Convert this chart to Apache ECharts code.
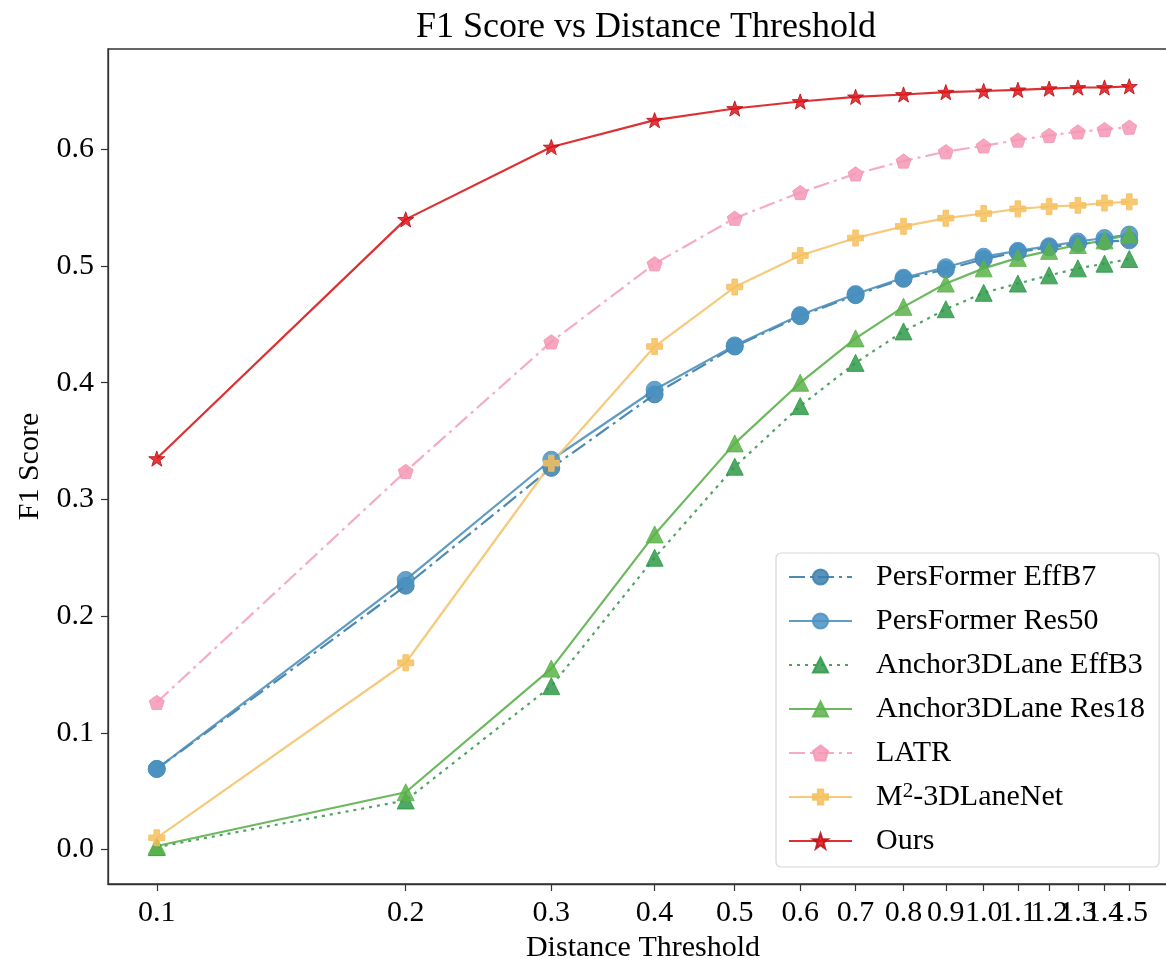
<!DOCTYPE html>
<html>
<head>
<meta charset="utf-8">
<script src="https://cdn.jsdelivr.net/npm/echarts@6/dist/echarts.min.js"></script>
<style>
  html, body { margin: 0; padding: 0; background: #fff; }
  #chart { width: 1166px; height: 958px; }
</style>
</head>
<body>
<div id="chart"></div>
<script>
// Distance thresholds (x) and F1 scores for each method
const thresholds = [0.1, 0.2, 0.3, 0.4, 0.5, 0.6, 0.7, 0.8, 0.9, 1.0, 1.1, 1.2, 1.3, 1.4, 1.5];
const persformerEffB7 = [0.069, 0.226, 0.327, 0.390, 0.431, 0.457, 0.475, 0.489, 0.497, 0.506, 0.512, 0.516, 0.519, 0.521, 0.522];
const persformerRes50 = [0.069, 0.231, 0.334, 0.394, 0.432, 0.458, 0.476, 0.490, 0.499, 0.508, 0.513, 0.517, 0.521, 0.524, 0.527];
const anchorEffB3 = [0.002, 0.042, 0.140, 0.250, 0.328, 0.380, 0.417, 0.444, 0.463, 0.477, 0.485, 0.492, 0.498, 0.502, 0.506];
const anchorRes18 = [0.003, 0.049, 0.155, 0.270, 0.348, 0.400, 0.438, 0.465, 0.485, 0.498, 0.507, 0.513, 0.518, 0.522, 0.527];
const latr = [0.126, 0.324, 0.435, 0.502, 0.541, 0.563, 0.579, 0.590, 0.598, 0.603, 0.608, 0.612, 0.615, 0.617, 0.619];
const m2LaneNet = [0.010, 0.160, 0.331, 0.431, 0.482, 0.509, 0.524, 0.534, 0.541, 0.545, 0.549, 0.551, 0.552, 0.554, 0.555];
const ours = [0.335, 0.540, 0.602, 0.625, 0.635, 0.641, 0.645, 0.647, 0.649, 0.650, 0.651, 0.652, 0.653, 0.653, 0.654];

const xTickValues = [0.1, 0.2, 0.3, 0.4, 0.5, 0.6, 0.7, 0.8, 0.9, 1.0, 1.1, 1.2, 1.3, 1.4, 1.5];
const yTickValues = [0.0, 0.1, 0.2, 0.3, 0.4, 0.5, 0.6];

const FONT = '"Liberation Serif", "DejaVu Serif", serif';
const X_MIN = 0.0873;
const X_MAX = 1.718;

// The tick labels at the right end run into each other; splitting them across two
// stacked axes keeps every one of them drawn instead of being thinned out.
const xTicksEven = xTickValues.filter((v, i) => i % 2 === 0);
const xTicksOdd = xTickValues.filter((v, i) => i % 2 === 1);

// Regular polygon / star outlines used as marker shapes
function polygonPath(points, inner) {
  const n = inner ? points * 2 : points;
  let d = '';
  for (let i = 0; i < n; i++) {
    const r = inner && i % 2 === 1 ? inner : 1;
    const a = -Math.PI / 2 + i * Math.PI * 2 / n;
    const px = (r * Math.cos(a)).toFixed(4);
    const py = (r * Math.sin(a)).toFixed(4);
    d += (i === 0 ? 'M' : 'L') + px + ',' + py;
  }
  return 'path://' + d + 'Z';
}
const STAR = polygonPath(5, 0.4);
const PENTAGON = polygonPath(5, 0);
const PLUS = 'path://M-0.35,-1L0.35,-1L0.35,-0.35L1,-0.35L1,0.35L0.35,0.35L0.35,1L-0.35,1L-0.35,0.35L-1,0.35L-1,-0.35L-0.35,-0.35Z';

function pairs(values) {
  return thresholds.map((t, i) => [t, values[i]]);
}

function makeSeries(name, values, opts) {
  return {
    name: name,
    type: 'line',
    xAxisIndex: 0,
    data: pairs(values),
    symbol: opts.symbol,
    symbolSize: opts.size,
    symbolKeepAspect: true,
    showAllSymbol: true,
    lineStyle: { color: opts.line, width: 2.2, type: opts.dash || 'solid', opacity: 0.9 },
    itemStyle: { color: opts.fill, opacity: 0.85, borderColor: opts.edge || opts.fill, borderWidth: 1 },
    emphasis: { disabled: true },
    animation: false
  };
}

const series = [
  makeSeries('PersFormer EffB7', persformerEffB7, { symbol: 'circle', size: 17, line: '#3b7ca8', fill: '#3a80ad', dash: [16, 5, 3, 5] }),
  makeSeries('PersFormer Res50', persformerRes50, { symbol: 'circle', size: 17, line: '#4e90bd', fill: '#4a92c2' }),
  makeSeries('Anchor3DLane EffB3', anchorEffB3, { symbol: 'triangle', size: 17, line: '#3a9a50', fill: '#2f9a49', dash: [3, 5] }),
  makeSeries('Anchor3DLane Res18', anchorRes18, { symbol: 'triangle', size: 17, line: '#5cb04c', fill: '#5ab34a' }),
  makeSeries('LATR', latr, { symbol: PENTAGON, size: 15, line: '#f4a3bb', fill: '#f497b4', dash: [16, 5, 3, 5] }),
  makeSeries('M²-3DLaneNet', m2LaneNet, { symbol: PLUS, size: 16, line: '#f5c46e', fill: '#f6bf5c' }),
  makeSeries('Ours', ours, { symbol: STAR, size: 16, line: '#d8191c', fill: '#e0141a', edge: '#b81015' })
];

function xLabelStyle(values) {
  return {
    customValues: values,
    hideOverlap: false,
    showMinLabel: true,
    showMaxLabel: true,
    margin: 14,
    fontFamily: FONT, fontSize: 30, color: '#000',
    formatter: v => Number(v).toFixed(1)
  };
}

const chart = echarts.init(document.getElementById('chart'), null, { renderer: 'canvas' });

chart.setOption({
  backgroundColor: '#fff',
  animation: false,
  title: {
    text: 'F1 Score vs Distance Threshold',
    left: 411,
    top: 5,
    textStyle: { fontFamily: FONT, fontSize: 36, fontWeight: 'normal', color: '#000' }
  },
  grid: {
    left: 108, top: 49, bottom: 74, width: 1070,
    outerBoundsMode: 'none',
    containLabel: false,
    show: true, borderColor: '#333', borderWidth: 1.3, backgroundColor: 'transparent'
  },
  xAxis: [
    {
      type: 'log',
      logBase: 10,
      position: 'bottom',
      min: X_MIN,
      max: X_MAX,
      name: 'Distance Threshold',
      nameLocation: 'middle',
      nameGap: 44,
      nameTextStyle: { fontFamily: FONT, fontSize: 30, color: '#000' },
      axisLine: { onZero: false, lineStyle: { color: '#333', width: 1.3 } },
      axisTick: { show: true, length: 7, lineStyle: { color: '#333', width: 1.2 }, customValues: xTicksEven },
      minorTick: { show: false },
      axisLabel: xLabelStyle(xTicksEven),
      splitLine: { show: false }
    },
    {
      type: 'log',
      logBase: 10,
      position: 'bottom',
      offset: 0,
      min: X_MIN,
      max: X_MAX,
      axisLine: { show: false, onZero: false },
      axisTick: { show: true, length: 7, lineStyle: { color: '#333', width: 1.2 }, customValues: xTicksOdd },
      minorTick: { show: false },
      axisLabel: xLabelStyle(xTicksOdd),
      splitLine: { show: false }
    }
  ],
  yAxis: {
    type: 'value',
    min: -0.0296,
    max: 0.686,
    name: 'F1 Score',
    nameLocation: 'middle',
    nameGap: 60,
    nameTextStyle: { fontFamily: FONT, fontSize: 30, color: '#000' },
    axisLine: { show: true, onZero: false, lineStyle: { color: '#333', width: 1.3 } },
    axisTick: { show: true, length: 7, lineStyle: { color: '#333', width: 1.2 }, customValues: yTickValues },
    axisLabel: {
      customValues: yTickValues,
      showMinLabel: true,
      showMaxLabel: true,
      margin: 14,
      fontFamily: FONT, fontSize: 30, color: '#000',
      formatter: v => Number(v).toFixed(1)
    },
    splitLine: { show: false }
  },
  legend: {
    orient: 'vertical',
    left: 776,
    top: 553,
    itemWidth: 63,
    itemHeight: 19,
    itemGap: 12,
    padding: [8, 14, 10, 12],
    backgroundColor: 'rgba(255,255,255,0.85)',
    borderColor: '#d6d6d6',
    borderWidth: 1.2,
    borderRadius: 5,
    selectedMode: false,
    data: series.map(s => s.name),
    formatter: name => name === 'M²-3DLaneNet' ? '{n|M}{s|2}{n|-3DLaneNet}' : name,
    textStyle: {
      fontFamily: FONT, fontSize: 30, color: '#000', lineHeight: 32,
      padding: [0, 0, 0, 19],
      rich: {
        n: { fontFamily: FONT, fontSize: 30, color: '#000', lineHeight: 32 },
        s: { fontFamily: FONT, fontSize: 21, color: '#000', lineHeight: 32, verticalAlign: 'top', padding: [0, 0, 6, 0] }
      }
    }
  },
  series: series
});
</script>
</body>
</html>
